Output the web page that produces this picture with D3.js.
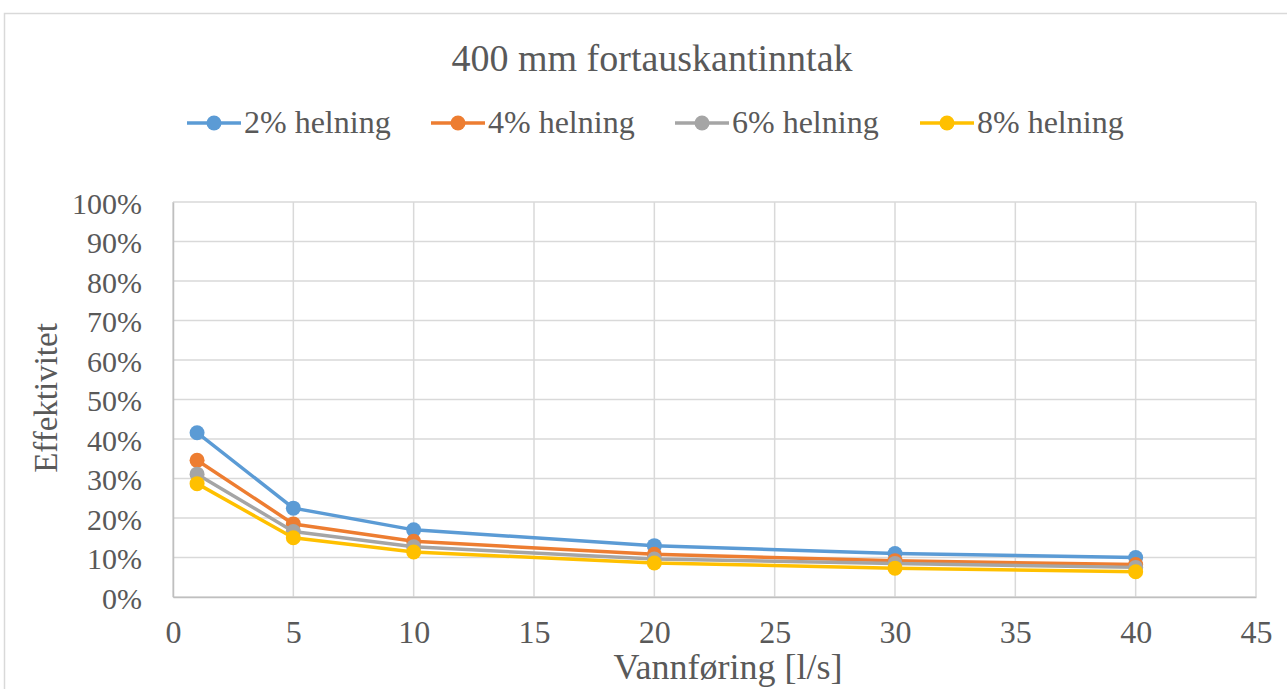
<!DOCTYPE html>
<html>
<head>
<meta charset="utf-8">
<script src="https://cdn.jsdelivr.net/npm/d3@7"></script>
<style>
  html, body { margin: 0; padding: 0; background: #fff; overflow: hidden; }
  svg text { font-family: "Liberation Serif", "DejaVu Serif", serif; }
</style>
</head>
<body>
<svg id="chart" width="1287" height="689"></svg>
<script>
// Flow rates (l/s) and inlet efficiency per road slope
const flows = [1, 5, 10, 20, 30, 40];
const slope2 = [0.416, 0.225, 0.170, 0.130, 0.110, 0.100];
const slope4 = [0.346, 0.185, 0.141, 0.108, 0.092, 0.082];
const slope6 = [0.311, 0.166, 0.127, 0.096, 0.085, 0.075];
const slope8 = [0.287, 0.150, 0.114, 0.086, 0.073, 0.064];
const seriesNames = ["2% helning", "4% helning", "6% helning", "8% helning"];
const seriesColors = ["#5b9bd5", "#ed7d31", "#a5a5a5", "#ffc000"];
const xTicks = [0, 5, 10, 15, 20, 25, 30, 35, 40, 45];
const yTicks = [0, 0.1, 0.2, 0.3, 0.4, 0.5, 0.6, 0.7, 0.8, 0.9, 1.0];

const series = [slope2, slope4, slope6, slope8].map((vals, i) => ({
  name: seriesNames[i],
  color: seriesColors[i],
  points: flows.map((f, j) => ({ x: f, y: vals[j] }))
}));

const serif = "'Liberation Serif', 'DejaVu Serif', serif";
const svg = d3.select("#chart");
const textColor = "#595959";

// outer chart frame
svg.append("rect")
  .attr("x", 4.5).attr("y", 13.5)
  .attr("width", 1300).attr("height", 700)
  .attr("fill", "#fff").attr("stroke", "#d9d9d9").attr("stroke-width", 1.5);

const plot = { left: 173, right: 1256, top: 202, bottom: 597 };
const x = d3.scaleLinear().domain([0, 45]).range([plot.left, plot.right]);
const y = d3.scaleLinear().domain([0, 1]).range([plot.bottom, plot.top]);

// gridlines
const grid = svg.append("g");
grid.selectAll("line.h").data(yTicks).join("line")
  .attr("x1", plot.left).attr("x2", plot.right)
  .attr("y1", d => y(d)).attr("y2", d => y(d))
  .attr("stroke", "#d9d9d9").attr("stroke-width", 1.5);
grid.selectAll("line.v").data(xTicks).join("line")
  .attr("x1", d => x(d)).attr("x2", d => x(d))
  .attr("y1", plot.top).attr("y2", plot.bottom)
  .attr("stroke", "#d9d9d9").attr("stroke-width", 1.5);

// axes
const xAxis = d3.axisBottom(x).tickValues(xTicks).tickSize(0).tickPadding(23);
const yAxis = d3.axisLeft(y).tickValues(yTicks).tickSize(0).tickPadding(31)
  .tickFormat(d3.format(".0%"));

const gx = svg.append("g").attr("transform", `translate(0,${plot.bottom})`).call(xAxis);
const gy = svg.append("g").attr("transform", `translate(${plot.left},0)`).call(yAxis);
gx.attr("font-family", serif).attr("font-size", 32);
gy.attr("font-family", serif).attr("font-size", 30);
[gx, gy].forEach(g => {
  g.select(".domain").attr("stroke", "#bfbfbf").attr("stroke-width", 1.5);
  g.selectAll("text").attr("fill", textColor);
});
gy.selectAll("text").attr("dy", "0.38em");

// lines and markers
const line = d3.line().x(d => x(d.x)).y(d => y(d.y));
series.forEach(s => {
  svg.append("path").datum(s.points)
    .attr("d", line).attr("fill", "none")
    .attr("stroke", s.color).attr("stroke-width", 3.5)
    .attr("stroke-linejoin", "round").attr("stroke-linecap", "round");
  svg.append("g").selectAll("circle").data(s.points).join("circle")
    .attr("cx", d => x(d.x)).attr("cy", d => y(d.y)).attr("r", 7.5)
    .attr("fill", s.color);
});

// title
svg.append("text")
  .attr("x", 652).attr("y", 71)
  .attr("text-anchor", "middle").attr("fill", textColor)
  .attr("font-family", serif).attr("font-size", 38)
  .text("400 mm fortauskantinntak");

// legend
const legendX = [187, 431, 675, 920];
const legend = svg.append("g");
series.forEach((s, i) => {
  const g = legend.append("g").attr("transform", `translate(${legendX[i]},123)`);
  g.append("line").attr("x1", 0).attr("x2", 54).attr("y1", 0).attr("y2", 0)
    .attr("stroke", s.color).attr("stroke-width", 3.5);
  g.append("circle").attr("cx", 27).attr("cy", 0).attr("r", 7.5).attr("fill", s.color);
  g.append("text").attr("x", 57).attr("y", 10)
    .attr("fill", textColor).attr("font-family", serif).attr("font-size", 32)
    .text(s.name);
});

// axis titles
svg.append("text")
  .attr("transform", `translate(57,398) rotate(-90)`)
  .attr("text-anchor", "middle").attr("fill", textColor)
  .attr("font-family", serif).attr("font-size", 33)
  .text("Effektivitet");
svg.append("text")
  .attr("x", 728).attr("y", 679)
  .attr("text-anchor", "middle").attr("fill", textColor)
  .attr("font-family", serif).attr("font-size", 36)
  .text("Vannføring [l/s]");
</script>
</body>
</html>
